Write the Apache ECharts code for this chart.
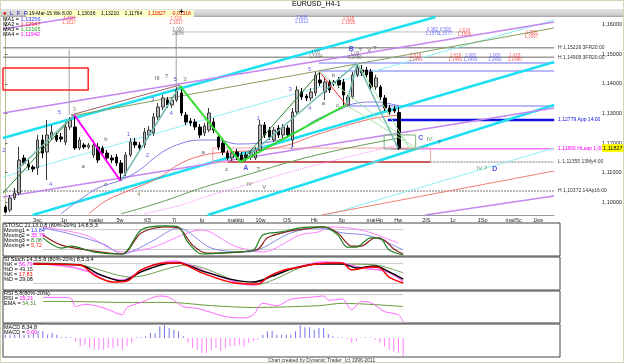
<!DOCTYPE html>
<html>
<head>
<meta charset="utf-8">
<script src="https://cdn.jsdelivr.net/npm/echarts@6/dist/echarts.min.js"></script>
<style>
  html, body { margin: 0; padding: 0; background: #fff; }
  #chart { width: 625px; height: 364px; }
</style>
</head>
<body>
<div id="chart"></div>
<script>
// ---- data ----
const dayLabels = ["3sc", "1p", "maikp", "5w", "K5", "7i", "Ip", "maiktp", "10w", "OS", "Hk", "6p", "maiI4p", "Hw", "2IS", "1c", "1Sp", "maiI5c", "1kw"];
const barCount = 119;
const priceTicks = [1.10, 1.11, 1.12, 1.13, 1.14, 1.15, 1.16];

// open, close, low, high
const ohlc = [
  [1.09830, 1.09660, 1.09626, 1.09898], [1.09728, 1.10135, 1.09660, 1.10237], [1.10135, 1.10305, 1.10067, 1.10474],
  [1.10305, 1.11423, 1.10237, 1.11864], [1.11491, 1.11321, 1.11254, 1.11593], [1.11288, 1.11186, 1.11084, 1.11423],
  [1.11186, 1.11118, 1.11016, 1.11254], [1.11152, 1.12101, 1.10915, 1.12271], [1.12101, 1.11660, 1.11491, 1.12271],
  [1.11694, 1.12271, 1.10745, 1.12779], [1.12203, 1.12372, 1.12101, 1.12610], [1.12271, 1.12101, 1.12033, 1.12372],
  [1.12203, 1.12135, 1.12033, 1.12338], [1.12033, 1.12542, 1.11932, 1.12711], [1.12542, 1.12779, 1.12440, 1.12881],
  [1.12542, 1.11830, 1.11762, 1.12949], [1.11830, 1.12101, 1.11762, 1.12203], [1.11932, 1.11864, 1.11796, 1.11999],
  [1.11864, 1.11932, 1.11796, 1.11999], [1.11593, 1.11932, 1.11491, 1.12101], [1.11864, 1.11423, 1.11321, 1.11999],
  [1.11830, 1.11660, 1.11559, 1.11898], [1.11660, 1.11491, 1.11355, 1.11762], [1.11491, 1.11423, 1.11321, 1.11593],
  [1.11525, 1.11321, 1.11220, 1.11627], [1.11321, 1.10983, 1.10711, 1.11423], [1.10983, 1.11593, 1.10881, 1.11694],
  [1.11593, 1.12033, 1.11525, 1.12169], [1.12033, 1.11932, 1.11830, 1.12169], [1.11932, 1.11830, 1.11762, 1.12033],
  [1.11932, 1.12372, 1.11830, 1.12508], [1.12271, 1.12440, 1.12169, 1.12576], [1.12338, 1.12881, 1.12237, 1.13016],
  [1.12881, 1.13220, 1.12779, 1.13355], [1.13220, 1.13525, 1.13118, 1.13627], [1.13457, 1.13288, 1.13186, 1.13559],
  [1.13288, 1.13457, 1.13186, 1.13559], [1.13457, 1.13796, 1.13389, 1.13898], [1.13694, 1.13016, 1.12915, 1.13932],
  [1.12949, 1.12711, 1.12610, 1.13050], [1.12745, 1.12677, 1.12576, 1.12847], [1.12711, 1.12542, 1.12440, 1.12813],
  [1.12542, 1.12271, 1.12169, 1.12643], [1.12338, 1.12576, 1.12237, 1.12677], [1.12440, 1.13016, 1.12372, 1.13186],
  [1.12711, 1.12440, 1.12338, 1.12847], [1.12203, 1.11864, 1.11762, 1.12338], [1.11999, 1.11694, 1.11593, 1.12101],
  [1.11660, 1.11491, 1.11423, 1.11762], [1.11491, 1.11660, 1.11389, 1.11762], [1.11694, 1.11525, 1.11423, 1.11796],
  [1.11593, 1.11423, 1.11321, 1.11694], [1.11593, 1.11491, 1.11389, 1.11694], [1.11525, 1.11660, 1.11423, 1.11762],
  [1.11491, 1.11762, 1.11423, 1.11864], [1.11762, 1.12610, 1.11694, 1.12779], [1.12610, 1.12271, 1.12169, 1.12711],
  [1.12440, 1.12203, 1.12101, 1.12542], [1.12101, 1.12440, 1.12033, 1.12542], [1.12508, 1.12271, 1.12169, 1.12610],
  [1.12271, 1.12542, 1.12169, 1.12643], [1.12508, 1.12271, 1.12169, 1.12610], [1.12101, 1.13050, 1.11864, 1.13186],
  [1.13050, 1.13796, 1.12983, 1.13932], [1.13728, 1.13559, 1.13457, 1.13864], [1.13593, 1.13525, 1.13423, 1.13661],
  [1.13525, 1.13728, 1.13423, 1.13864], [1.13694, 1.14305, 1.13593, 1.14406], [1.14135, 1.14033, 1.13932, 1.14406],
  [1.13728, 1.14067, 1.13457, 1.14203], [1.14067, 1.13796, 1.13694, 1.14135], [1.14067, 1.14033, 1.13932, 1.14135],
  [1.14135, 1.13966, 1.13864, 1.14237], [1.14067, 1.13627, 1.13288, 1.14169], [1.13288, 1.13559, 1.13220, 1.13627],
  [1.13559, 1.14305, 1.13491, 1.14406], [1.14305, 1.14542, 1.14237, 1.14711], [1.14474, 1.14372, 1.14271, 1.14644],
  [1.14474, 1.14305, 1.14203, 1.14576], [1.14406, 1.13898, 1.13796, 1.14508], [1.13898, 1.14203, 1.13796, 1.14305],
  [1.13898, 1.13559, 1.13457, 1.13966], [1.13525, 1.13186, 1.13084, 1.13627], [1.13186, 1.13050, 1.12949, 1.13288],
  [1.13152, 1.13084, 1.13016, 1.13254], [1.13036, 1.11827, 1.11764, 1.13210]
];

// moving averages [barIndex, price]
const ma1 = [[12, 1.0960], [16, 1.10067], [20, 1.10474], [25, 1.10745], [29, 1.11084], [33, 1.11593], [37, 1.11932], [42, 1.12101], [46, 1.12101], [50, 1.11966], [55, 1.11999], [59, 1.12101], [63, 1.12372], [67, 1.12779], [72, 1.13118], [76, 1.13355], [80, 1.13389], [85, 1.13256]];
const ma2 = [[18, 1.0960], [22, 1.10067], [27, 1.10406], [33, 1.10813], [38, 1.11321], [43, 1.11593], [48, 1.11694], [55, 1.11762], [61, 1.11932], [67, 1.12271], [74, 1.12610], [80, 1.12847], [85, 1.12947]];
const ma3 = [[25, 1.0960], [33, 1.09966], [43, 1.10508], [52, 1.10915], [63, 1.11423], [74, 1.11830], [85, 1.12165]];
const ma4 = [[30, 1.0960], [38, 1.09898], [43, 1.10169], [52, 1.10576], [63, 1.11084], [74, 1.11525], [85, 1.11942]];

// trend lines [i1, p1, i2, p2]
const cyanThick = [[-0.5, 1.12169, 92.9, 1.1627], [5.9, 1.0956, 118.5, 1.14745], [43.7, 1.0956, 118.5, 1.13288]];
const cyanThin = [[-0.5, 1.10847, 118.5, 1.16169], [69.4, 1.0956, 118.5, 1.11830]];
const purple = [[-0.5, 1.13016, 118.5, 1.16101], [-0.5, 1.10169, 118.5, 1.13186], [90.7, 1.0956, 118.5, 1.10203], [-0.5, 1.15864, 15.4, 1.1627]];
const olive = [[14.2, 1.12915, 118.5, 1.15898]];
const maroon = [[14.2, 1.12949, 37.7, 1.13966]];
const salmon = [[68.3, 1.0956, 118.5, 1.11050]];
const waveDarkGreen = [[-0.5, 1.10305, 14.9, 1.12949], [50.8, 1.11355, 67.9, 1.14406]];
const waveTeal = [[2.5, 1.11084, 14.9, 1.12949], [24.9, 1.10711, 37.7, 1.13932], [52.3, 1.11525, 76, 1.14711], [73.6, 1.13288, 76, 1.14711], [76, 1.14711, 84.8, 1.11830]];
const waveMagenta = [[14.9, 1.12949, 24.9, 1.10711]];
const waveGreen = [[37.7, 1.13932, 50.8, 1.11355], [50.8, 1.11355, 73.6, 1.13288]];
const waveRed = [[67.9, 1.14406, 73.6, 1.13288]];
const waveLightGreen = [[76, 1.14711, 87.5, 1.11762], [67.9, 1.14406, 86.5, 1.12101], [73.6, 1.13288, 88.6, 1.11830]];
const vGray = [[13.8, 1.15169, 13.8, 1.12949], [36.9, 1.15763, 36.9, 1.13932]];

// horizontal levels [i1, i2, price, text]
const hGray = [[-0.5, 118.5, 1.15226, "H 1,15226 3FR20:00"], [-0.5, 118.5, 1.14909, "H 1,14909 3FR20:00"]];
const hGrayDotted = [[-0.5, 118.5, 1.10372, "H 1,10372 14Ap16:00"], [91.8, 118.5, 1.11355, "L 1,11355 13My4:00"]];
const hPale = [[36.9, 99.3, 1.15763, ""]];
const hBlueThin = [[67.7, 118.5, 1.14711, ""], [67.7, 118.5, 1.14440, ""], [74.1, 118.5, 1.13254, ""]];
const hBlueThick = [[82.6, 118.5, 1.12779, "1,12779 App 14:00"]];
const hMagenta = [[83.3, 118.5, 1.11806, "1,11806 HLaap 1,000"]];
const hDarkRed = [[48, 91.8, 1.11355, ""]];

// boxes [i1, p1, i2, p2]
const boxRed = [[-0.5, 1.14542, 17.9, 1.13796]];
const boxPink = [[44.8, 1.11830, 91.8, 1.11355]];
const boxGreen = [[81.8, 1.12271, 88.6, 1.11796]];

// wave labels [i, price, text]
const labelsBlue = [[-0.3, 1.11762, "2"], [11.7, 1.13050, "5"], [26.6, 1.12305, "1"], [30.7, 1.11593, "2"], [31.8, 1.13491, "3"], [35.8, 1.13016, "4"], [36.7, 1.14169, "5"], [65.7, 1.14508, "5"], [61.5, 1.13830, "3"], [65.7, 1.13186, "4"], [54.6, 1.12847, "1"], [61.9, 1.11864, "2"], [9.8, 1.10610, "4"]];
const labelsBigBlue = [[51.9, 1.11152, "A"], [74.7, 1.15186, "B"], [89.7, 1.12169, "C"], [105.7, 1.11118, "D"]];
const labelsGreen = [[14.9, 1.13152, "3"], [38.8, 1.14169, "3"], [28.8, 1.10271, "4"], [52.7, 1.10610, "IV"], [91.6, 1.12135, "IV"], [102.9, 1.11152, "IV ?"]];
const labelsDark = [[16.8, 1.11220, "a"], [21.7, 1.12135, "b"], [21.7, 1.10610, "c"], [32.8, 1.14203, "III"], [34.8, 1.14271, "?"], [42.7, 1.11694, "a"], [70.9, 1.14305, "b"], [68.7, 1.13355, "a"], [71.7, 1.13288, "c"], [47.8, 1.11118, "c"], [54.6, 1.11118, "?"], [76.6, 1.15152, "?"], [78.6, 1.15152, "V"], [79.8, 1.15220, "?"], [55.9, 1.10508, "V"], [93.7, 1.12033, "?"]];
const fibRed = [[13.8, 1.16135, "1,618\n1,1617"], [36.9, 1.16135, "1,618\n1,1617"], [74.1, 1.16135, "1,618\n1,1595"], [99.1, 1.15728, "1,618\n1,1589"], [113.6, 1.15660, "1,000\n1,1567"], [88.6, 1.14881, "2,618\n1,1493"], [97.2, 1.14881, "1,618\n1,1491"], [110, 1.14881, "1,618\n1,1490"]];
const fibBlue = [[64, 1.16169, "1,000\n1,1612"], [92.2, 1.15763, "0,382\n1,1575"], [95, 1.15763, "0,500\n1,1577"], [100.4, 1.14881, "1,000\n1,1493"], [105.7, 1.14881, "1,000\n1,1492"]];
const fibGray = [[37.3, 1.15763, "1,000\n200%"], [67, 1.14983, "1,00\n1,1494"], [75.5, 1.14950, "1,00\n1,1490"]];

// indicators [barIndex, value]
const stoch1Green = [[8, 55], [12, 24], [14, 30], [19, 12], [25, 6], [29, 79], [34, 91], [37, 88], [39, 42], [42, 6], [49, 12], [53, 18], [55, 64], [59, 73], [63, 85], [67, 88], [68, 88], [71, 64], [73, 27], [75, 27], [78, 55], [80, 55], [82, 18], [85, 3]];
const stoch1Red = [[8, 64], [12, 33], [19, 15], [25, 6], [29, 70], [34, 88], [37, 85], [40, 33], [43, 9], [50, 12], [54, 21], [56, 55], [60, 73], [64, 82], [68, 88], [71, 70], [74, 30], [76, 30], [79, 55], [81, 48], [83, 21], [85, 6]];
const stoch1Blue = [[8, 85], [13, 70], [21, 36], [25, 6], [31, 42], [37, 85], [44, 24], [52, 12], [61, 70], [67, 85], [72, 70], [78, 61], [85, 18]];
const stoch1Pink = [[8, 88], [17, 64], [25, 12], [31, 24], [42, 79], [49, 30], [55, 12], [63, 64], [67, 73], [69, 88], [76, 79], [84, 39]];
const stoch2Red = [[6, 79], [16, 76], [19, 45], [23, 24], [26, 27], [29, 61], [34, 82], [37, 82], [42, 52], [49, 21], [54, 18], [56, 39], [59, 58], [63, 70], [65, 76], [69, 82], [72, 82], [74, 61], [78, 70], [80, 67], [82, 39], [85, 21]];
const stoch2Black = [[6, 79], [16, 76], [20, 48], [25, 27], [29, 55], [34, 79], [37, 82], [42, 58], [48, 33], [53, 24], [57, 42], [62, 67], [67, 79], [72, 79], [75, 67], [79, 73], [82, 55], [85, 33]];
const stoch2Pink = [[6, 82], [15, 67], [25, 30], [30, 67], [36, 88], [43, 55], [50, 21], [53, 15], [58, 52], [66, 82], [68, 85], [72, 82], [76, 67], [81, 58], [85, 27]];
const stoch2Green = [[6, 82], [16, 76], [27, 39], [39, 76], [53, 15], [67, 82], [72, 79], [79, 76], [85, 52]];
const rsiPink = [[8, 74], [12, 74], [14, 72], [15, 54], [17, 59], [20, 54], [22, 47], [25, 36], [26, 52], [29, 63], [33, 77], [35, 74], [38, 54], [41, 50], [44, 41], [47, 32], [51, 29], [53, 36], [55, 61], [58, 56], [61, 70], [65, 74], [68, 77], [69, 68], [72, 70], [74, 47], [76, 65], [78, 63], [81, 43], [84, 36], [85, 21]];
const rsiEma = [[8, 65], [14, 65], [25, 63], [35, 63], [44, 56], [53, 52], [67, 56], [72, 61], [85, 54]];
const macdHist = [3.3, 3.3, 3.3, 4, 3.3, 3.3, 4, 6.7, 6.7, 3.3, 5, 3.3, 0.7, 0.7, 0.7, -3.3, -8.3, -6.7, -10, -11.7,
  -11.7, -11.7, -10, -10, -8.3, -11.7, -8.3, -5, 0.7, 0.7, 1.7, 5, 5, 11.7, 13.3, 10, 8.3, 6.7, 1.7, -5,
  -10, -11.7, -15, -15, -11.7, -10, -13.3, -10, -8.3, -8.3, -6.7, -8.3, -5, -3.3, -1.7, 3.3, 6.7, 7.3, 3.3, 3.3,
  3.3, 3.3, 6.7, 12.7, 10.7, 10.7, 8.3, 10, 10, 4, 1.7, 0.7, 0.4, -1, -5, -3.3, 0.4, 0.4, 0.4, -1.7,
  -5, -8.3, -11.7, -13.3, -15, -18.3];
const stochLevels = [80, 20];
const rsiLevels = [80, 20];

// ---- build ----
const FONT = "Liberation Sans";
const categories = [];
for (let i = 0; i < barCount; i++) categories.push(i > 0 && i % 6 === 0 ? dayLabels[i / 6 - 1] : "");
const lastClose = ohlc[ohlc.length - 1][1];
const fmtPrice = (v) => v.toFixed(5).replace(".", ",");

const chart = echarts.init(document.getElementById("chart"));
const series = [];

function addSegs(list, style, z) {
  list.forEach((s) => series.push({
    type: "line", xAxisIndex: 1, yAxisIndex: 0, data: [[s[0], s[1]], [s[2], s[3]]],
    symbol: "none", silent: true, z: z || 2, lineStyle: style
  }));
}
function addLevels(list, style, labelColor) {
  list.forEach((h) => series.push({
    type: "line", xAxisIndex: 1, yAxisIndex: 0, data: [[h[0], h[2]], [h[1], h[2]]],
    symbol: "none", silent: true, z: 2, clip: false, lineStyle: style,
    endLabel: { show: !!h[3], formatter: h[3], fontSize: 5, distance: 4, color: labelColor || "#333", fontFamily: FONT }
  }));
}
function addBoxes(list, style) {
  list.forEach((b) => series.push({
    type: "line", xAxisIndex: 1, yAxisIndex: 0, symbol: "none", silent: true, z: 2, lineStyle: style,
    data: [[b[0], b[1]], [b[2], b[1]], [b[2], b[3]], [b[0], b[3]], [b[0], b[1]]]
  }));
}
function addLabels(list, color, size, weight) {
  series.push({
    type: "scatter", xAxisIndex: 1, yAxisIndex: 0, data: list, symbolSize: 1, silent: true, z: 6,
    itemStyle: { color: "transparent" },
    label: { show: true, position: "inside", formatter: (p) => p.data[2], color, fontSize: size, fontWeight: weight || "normal", fontFamily: FONT, lineHeight: size }
  });
}
function addInd(data, xi, yi, color, width, type) {
  series.push({
    type: "line", xAxisIndex: xi, yAxisIndex: yi, data, symbol: "none", smooth: 0.3, silent: true,
    lineStyle: { color, width: width || 1, type: type || "solid" }
  });
}

// levels and channels
addLevels(hGray, { color: "#9a9a9a", width: 1.5 }, "#333");
addLevels(hGrayDotted, { color: "#777", width: 1, type: [2, 1] }, "#333");
addLevels(hPale, { color: "#bdbdbd", width: 1 });
addLevels(hBlueThin, { color: "#7272f2", width: 1 });
addLevels(hBlueThick, { color: "#1010e0", width: 2.5 }, "#1010e0");
addLevels(hMagenta, { color: "#ff70ff", width: 1.5 }, "#ff00ff");
addLevels(hDarkRed, { color: "#a01818", width: 2 });
addSegs(cyanThick, { color: "#1ee0f2", width: 2.5 });
addSegs(cyanThin, { color: "#8ef0f4", width: 1 });
addSegs(purple, { color: "#c486f0", width: 1.5 });
addSegs(olive, { color: "#86a05a", width: 1 });
addSegs(maroon, { color: "#a06060", width: 1 });
addSegs(salmon, { color: "#f08070", width: 1 });
addSegs(vGray, { color: "#a0a0a0", width: 1 });
addBoxes(boxRed, { color: "#ff2020", width: 1.5 });
addBoxes(boxPink, { color: "#f0a0a0", width: 1 });
addBoxes(boxGreen, { color: "#80b080", width: 1 });

// moving averages
[[ma1, "#7f7fe6", "solid"], [ma2, "#f06a6a", "solid"], [ma3, "#5f9f50", "solid"], [ma4, "#ff7cff", "dotted"]].forEach((m) =>
  series.push({ type: "line", xAxisIndex: 1, yAxisIndex: 0, data: m[0], symbol: "none", smooth: 0.4, silent: true, z: 3,
    lineStyle: { color: m[1], width: 1, type: m[2] } }));

// candles
series.push({
  type: "candlestick", xAxisIndex: 0, yAxisIndex: 0, data: ohlc, barWidth: 3, z: 4, silent: true,
  itemStyle: { color: "#b8b8b8", color0: "#000", borderColor: "#3a3a3a", borderColor0: "#000", borderWidth: 1 }
});

// current price tag on the price scale
series.push({
  type: "line", xAxisIndex: 1, yAxisIndex: 0, data: [[-0.5, lastClose], [118.5, lastClose]],
  symbol: "none", silent: true, z: 7, clip: false, lineStyle: { color: "transparent", width: 0 },
  endLabel: { show: true, formatter: fmtPrice(lastClose), distance: 48, backgroundColor: "#ffff00",
    color: "#000", fontSize: 5.5, padding: [1, 1], fontFamily: FONT }
});

// waves on top
addSegs(waveDarkGreen, { color: "#2f7d2f", width: 1 }, 5);
addSegs(waveTeal, { color: "#70b8b0", width: 1.5 }, 5);
addSegs(waveMagenta, { color: "#ff00ff", width: 2 }, 5);
addSegs(waveGreen, { color: "#33dd33", width: 2 }, 5);
addSegs(waveRed, { color: "#ff2a2a", width: 1 }, 5);
addSegs(waveLightGreen, { color: "#a4e6a4", width: 1 }, 5);

addLabels(labelsBlue, "#3434e0", 6);
addLabels(labelsBigBlue, "#2a2ae0", 7, "bold");
addLabels(labelsGreen, "#4e7e2e", 6);
addLabels(labelsDark, "#333", 6);
addLabels(fibRed, "#ff3030", 4.5);
addLabels(fibBlue, "#4a4aff", 4.5);
addLabels(fibGray, "#555", 4.5);

// indicator panels
stochLevels.forEach((v) => series.push({ type: "line", xAxisIndex: 2, yAxisIndex: 1, data: [[8, v], [85, v]], symbol: "none", silent: true, lineStyle: { color: "#c8c8c8", width: 1 } }));
addInd(stoch1Pink, 2, 1, "#ff80ff");
addInd(stoch1Blue, 2, 1, "#8a8ae8");
addInd(stoch1Red, 2, 1, "#8b1c1c", 1.2);
addInd(stoch1Green, 2, 1, "#1f801f", 1.2);

stochLevels.forEach((v) => series.push({ type: "line", xAxisIndex: 3, yAxisIndex: 2, data: [[6, v], [85, v]], symbol: "none", silent: true, lineStyle: { color: "#c8c8c8", width: 1 } }));
addInd(stoch2Green, 3, 2, "#6ea050");
addInd(stoch2Pink, 3, 2, "#ff70ff", 1.5);
addInd(stoch2Black, 3, 2, "#000", 1.5);
addInd(stoch2Red, 3, 2, "#ff0000", 1.5);

rsiLevels.forEach((v) => series.push({ type: "line", xAxisIndex: 4, yAxisIndex: 3, data: [[8, v], [85, v]], symbol: "none", silent: true, lineStyle: { color: "#c8c8c8", width: 1 } }));
addInd(rsiEma, 4, 3, "#6a9a3a");
addInd(rsiPink, 4, 3, "#ff66ff");

series.push({
  type: "bar", xAxisIndex: 5, yAxisIndex: 4, data: macdHist, barWidth: 1, silent: true,
  itemStyle: { color: (p) => (p.value >= 0 ? "#7474f0" : "#ff80ff") }
});

const txt = { fontFamily: FONT, fontSize: 6, color: "#000", fontWeight: "normal" };
const catHidden = (gi) => ({ type: "category", gridIndex: gi, data: categories, show: false });
const panelGrid = (top, height) => ({ left: 3, top, width: 557, height, show: true, borderColor: "#444", borderWidth: 1, backgroundColor: "#fff" });

chart.setOption({
  animation: false,
  backgroundColor: "#fff",
  textStyle: { fontFamily: FONT },
  graphic: [
    { type: "rect", shape: { x: 1, y: 9, width: 622, height: 8 }, style: { fill: new echarts.graphic.LinearGradient(0, 0, 0, 1, [{ offset: 0, color: "#e4e4e4" }, { offset: 0.7, color: "#cfcfcf" }, { offset: 1, color: "#a4a4a4" }]) }, z: -10 },
    { type: "rect", shape: { x: 0.5, y: 0.5, width: 623, height: 362 }, style: { fill: "none", stroke: "#a8a878", lineWidth: 1, lineDash: [1, 1] }, z: 100 }
  ],
  title: [
    { text: "EURUSD_H4-1", left: 292, top: 1, padding: 0, textStyle: { ...txt, fontSize: 7 } },
    { text: "{r|●}  {b|L  F  R}", left: 3, top: 10, padding: 0, textStyle: { ...txt, rich: { r: { color: "#e00000", fontSize: 6 }, b: { color: "#1a1ac0", fontSize: 6 } } } },
    { text: "19-Mar-15 Wk 8.00    1,13036    1,13210    1,11764    {r|1,11827    -0,01318}", left: 26, top: 10, padding: [1, 3], backgroundColor: "#ffffc8",
      textStyle: { ...txt, fontSize: 5, rich: { r: { color: "#e00000", fontSize: 5 } } } },
    { text: "+", left: 179, top: 8, padding: 0, textStyle: { ...txt, fontSize: 8, fontWeight: "bold" } },
    { text: "MA1 = {a|1,13256}\nMA2 = {b|1,12947}\nMA3 = {c|1,12165}\nMA4 = {d|1,11942}", left: 3, top: 17, padding: 0, z: 10,
      textStyle: { ...txt, fontSize: 5.5, lineHeight: 5, rich: { a: { color: "#3030ff", fontSize: 5.5 }, b: { color: "#ff2020", fontSize: 5.5 }, c: { color: "#20a020", fontSize: 5.5 }, d: { color: "#ff00ff", fontSize: 5.5 } } } },
    { text: "STOSC 21,13,0,8 (80%-20%) 14,8,5,3\nMoving1 = {a|13,84}\nMoving2 = {b|35,79}\nMoving3 = {c|8,08}\nMoving4 = {d|5,72}", left: 4, top: 223, padding: 0,
      textStyle: { ...txt, fontSize: 5.5, lineHeight: 5, rich: { a: { color: "#4040ff", fontSize: 5.5 }, b: { color: "#ff00ff", fontSize: 5.5 }, c: { color: "#208020", fontSize: 5.5 }, d: { color: "#ff2020", fontSize: 5.5 } } } },
    { text: "SI Stoch 14,3,5,8 (80%-20%) 8,5,3,4\n%K = {a|56,79}\n%D = {b|49,15}\n%K = {c|17,83}\n%D = {d|29,08}", left: 4, top: 257, padding: 0,
      textStyle: { ...txt, fontSize: 5.5, lineHeight: 5, rich: { a: { color: "#ff00ff", fontSize: 5.5 }, b: { color: "#333", fontSize: 5.5 }, c: { color: "#ff0000", fontSize: 5.5 }, d: { color: "#000", fontSize: 5.5 } } } },
    { text: "RSI 5,8(80%-20%)\nRSI = {a|29,21}\nEMA = {b|54,31}", left: 4, top: 291, padding: 0,
      textStyle: { ...txt, fontSize: 5.5, lineHeight: 5, rich: { a: { color: "#ff00ff", fontSize: 5.5 }, b: { color: "#4a8a2a", fontSize: 5.5 } } } },
    { text: "MACD 8,34,8\nMACD = {a|0,00}", left: 4, top: 325, padding: 0,
      textStyle: { ...txt, fontSize: 5.5, lineHeight: 5, rich: { a: { color: "#ff00ff", fontSize: 5.5 } } } },
    { text: "Chart created by Dynamic Trader  (c) 1996-2011", left: 268, top: 358, padding: 0, textStyle: { ...txt, fontSize: 5, color: "#333" } }
  ],
  grid: [
    { left: 3, top: 17, width: 557, height: 198, show: false },
    panelGrid(223, 33),
    panelGrid(257, 33),
    panelGrid(291, 32),
    panelGrid(324, 33)
  ],
  xAxis: [
    { type: "category", gridIndex: 0, data: categories, boundaryGap: true,
      axisLine: { lineStyle: { color: "#9a9a9a" } },
      axisTick: { interval: (i) => i > 0 && i % 6 === 0, length: 6, lineStyle: { color: "#9a9a9a" } },
      axisLabel: { interval: 0, align: "left", fontSize: 5.5, margin: 2, color: "#222", fontFamily: FONT },
      splitLine: { show: false } },
    { type: "value", gridIndex: 0, min: -0.5, max: 118.5, show: false },
    catHidden(1), catHidden(2), catHidden(3), catHidden(4)
  ],
  yAxis: [
    { type: "value", gridIndex: 0, min: 1.0956, max: 1.1627, position: "right", offset: 46,
      axisLine: { show: true, lineStyle: { color: "#a8a878", type: "dotted" } },
      axisTick: { show: true, customValues: priceTicks, length: 2, lineStyle: { color: "#555" } },
      axisLabel: { customValues: priceTicks, showMaxLabel: true, showMinLabel: true, hideOverlap: false,
        formatter: fmtPrice, fontSize: 5.5, margin: 2, color: "#222", fontFamily: FONT },
      splitLine: { show: false } },
    { type: "value", gridIndex: 1, min: 0, max: 100, show: false },
    { type: "value", gridIndex: 2, min: 0, max: 100, show: false },
    { type: "value", gridIndex: 3, min: 18, max: 88, show: false },
    { type: "value", gridIndex: 4, min: -19, max: 14, show: false }
  ],
  series
});
</script>
</body>
</html>
